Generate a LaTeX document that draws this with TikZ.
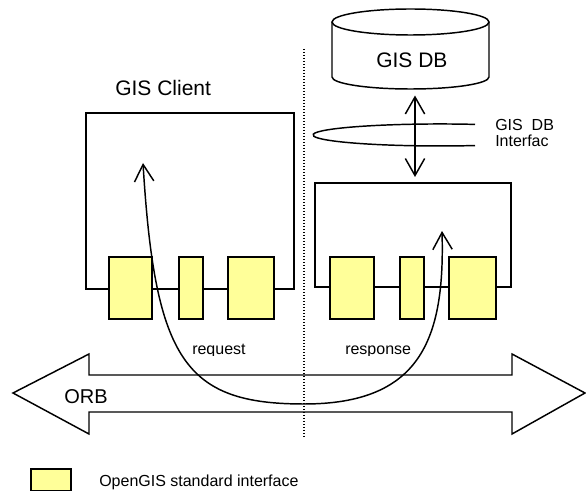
\documentclass[tikz,border=0pt]{standalone}
\usepackage{fontspec}
\setmainfont{Liberation Sans}
\usetikzlibrary{arrows.meta}

\definecolor{ifyellow}{RGB}{255,255,153}

\tikzset{barbtip/.tip={Straight Barb[length=12.75pt,width=14.5pt]}}

\begin{document}
\begin{tikzpicture}[x=0.75pt,y=-0.75pt,
  frame/.style={draw, line width=1.5pt, rectangle, inner sep=0pt, anchor=north west},
  iface/.style={draw, line width=1.5pt, fill=ifyellow, rectangle, inner sep=0pt, anchor=north west},
  link/.style={line width=1.1pt, {barbtip}-{barbtip}},
  outline/.style={line width=1.1pt, line join=miter},
  sepline/.style={line width=0.9pt, dash pattern=on 0.75pt off 1.5pt},
  txt/.style={inner sep=0pt, anchor=base west},
  bigfont/.style={font=\fontsize{15.75pt}{18pt}\selectfont},
  orbfont/.style={font=\fontsize{15pt}{18pt}\selectfont},
  smallfont/.style={font=\fontsize{12pt}{12pt}\selectfont}
]
\useasboundingbox (0,0) rectangle (586,491);

% separator between client side and server side
\coordinate (divtop) at (304,49);
\coordinate (divbot) at (304,437);
\draw[sepline] (divtop) -- (divbot);

% ORB double arrow (outline only)
\coordinate (orbtip) at (13,393);
\draw[outline] (orbtip) -- (89,354) -- (89,375) -- (512,375) -- (512,354)
  -- (585,393) -- (512,434) -- (512,412) -- (89,412) -- (89,434) -- cycle;
\node[txt, orbfont] (orb) at (64,404) {ORB};

% database cylinder
\draw[outline] (410.5,22) ellipse [x radius=58.875pt, y radius=9.75pt];
\draw[outline] (332,22) -- (332,77) arc[start angle=180, end angle=360,
  x radius=58.875pt, y radius=9pt] -- (489,22);
\node[inner sep=0pt, minimum width=117.75pt, minimum height=60pt, anchor=north west]
  (db) at (332,9) {};
\node[txt, bigfont] (dblabel) at (376,68) {GIS DB};

% interface ring around the database link
\draw[outline] (475,124.4) arc[start angle=74, end angle=286,
  x radius=95.25pt, y radius=8.25pt];
\node[txt, smallfont] (ifl1) at (495,131) {GIS\ \ DB};
\node[txt, smallfont] (ifl2) at (495,147) {Interfac};

% client and server components
\node[frame, minimum width=156pt, minimum height=132pt] (client) at (85,112) {};
\node[frame, minimum width=147pt, minimum height=78pt] (server) at (314,182) {};
\node[txt, bigfont] (clientlabel) at (115,96) {GIS Client};

% standard interfaces
\node[iface, minimum width=32.25pt, minimum height=46.5pt] (c1) at (108,256) {};
\node[iface, minimum width=18pt,    minimum height=46.5pt] (c2) at (178,256) {};
\node[iface, minimum width=34.5pt,  minimum height=46.5pt] (c3) at (227,256) {};
\node[iface, minimum width=33pt,    minimum height=46.5pt] (s1) at (329,256) {};
\node[iface, minimum width=18pt,    minimum height=46.5pt] (s2) at (399,256) {};
\node[iface, minimum width=35.25pt, minimum height=46.5pt] (s3) at (448,256) {};

% database link
\draw[link, shorten <=4.5pt, shorten >=3.75pt] (db.south -| 415,0) -- (server.north -| 415,0);

% request / response path through the ORB
\coordinate (reqend) at (143,163);
\coordinate (respend) at (442,231);
\coordinate (orbmid) at (304,404);
\draw[link] (reqend) .. controls (155,360) and (185,404) .. (orbmid)
  .. controls (420,404) and (445,340) .. (respend);

% labels cut off just below their baseline
\begin{scope}
  \clip (185,330) rectangle (260,355.3);
  \node[txt, smallfont] (req) at (192,355) {request};
\end{scope}
\begin{scope}
  \clip (338,330) rectangle (420,355.3);
  \node[txt, smallfont] (resp) at (345,355) {response};
\end{scope}

% legend
\node[iface, minimum width=30pt, minimum height=16.5pt] (legbox) at (30,468) {};
\node[txt, smallfont] (legtext) at (99,487) {OpenGIS standard interface};
\end{tikzpicture}
\end{document}
